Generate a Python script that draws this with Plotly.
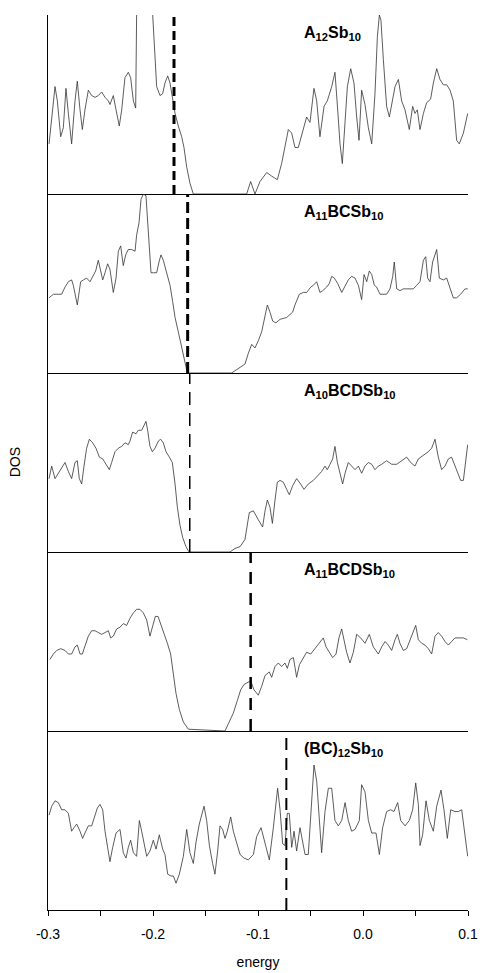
import plotly.graph_objects as go
from plotly.subplots import make_subplots

# ---------------- data ----------------
labels = ["A<sub>12</sub>Sb<sub>10</sub>", "A<sub>11</sub>BCSb<sub>10</sub>",
          "A<sub>10</sub>BCDSb<sub>10</sub>", "A<sub>11</sub>BCDSb<sub>10</sub>",
          "(BC)<sub>12</sub>Sb<sub>10</sub>"]
fermi = [-0.180, -0.167, -0.165, -0.107, -0.073]

e1 = [-0.299, -0.2933, -0.2911, -0.2879, -0.2854, -0.2829, -0.2806, -0.2775, -0.2743, -0.2721,
      -0.2695, -0.2673, -0.2648, -0.2616, -0.2584, -0.2552, -0.2521, -0.2489, -0.2457, -0.2425,
      -0.2410, -0.2378, -0.2352, -0.2321, -0.2298, -0.2267, -0.2235, -0.2213, -0.2187, -0.2165,
      -0.2156, -0.2124, -0.2076, -0.2029, -0.2003, -0.1981, -0.1965, -0.1933, -0.1908, -0.1886,
      -0.1860, -0.1838, -0.1813, -0.1790, -0.1759, -0.1727, -0.1705, -0.1679, -0.1648, -0.1616,
      -0.1124, -0.1108, -0.1070, -0.1029, -0.0981, -0.0917, -0.0870, -0.0816, -0.0775, -0.0743,
      -0.0711, -0.0679, -0.0648, -0.0616, -0.0568, -0.0537, -0.0505, -0.0467, -0.0441, -0.0410,
      -0.0371, -0.0340, -0.0298, -0.0267, -0.0241, -0.0219, -0.0197, -0.0171, -0.0149, -0.0117,
      -0.0086, -0.0060, -0.0038, -0.0013, 0.0019, 0.0051, 0.0083, 0.0114, 0.0137, 0.0156,
      0.0171, 0.0194, 0.0225, 0.0251, 0.0273, 0.0305, 0.0337, 0.0368, 0.0400, 0.0441,
      0.0473, 0.0495, 0.0517, 0.0543, 0.0575, 0.0606, 0.0644, 0.0670, 0.0702, 0.0733,
      0.0765, 0.0797, 0.0829, 0.0860, 0.0892, 0.0917, 0.0956, 0.0997]
d1 = [28, 60, 52, 32, 37, 59, 45, 28, 52, 63,
      47, 36, 47, 58, 55, 54, 55, 57, 54, 52,
      50, 55, 47, 38, 47, 65, 68, 65, 52, 48,
      100, 125, 135, 120, 100, 75, 60, 55, 56, 62,
      66, 62, 52, 45, 38, 32, 26, 15, 6, 0,
      0, 0, 7, 0, 7, 12, 10, 8, 17, 26,
      36, 34, 26, 26, 37, 43, 40, 59, 52, 32,
      49, 52, 60, 68, 47, 28, 17, 43, 60, 70,
      62, 43, 30, 58, 50, 37, 28, 56, 88, 100,
      97, 75, 49, 43, 50, 60, 64, 52, 47, 36,
      49, 45, 47, 36, 45, 51, 53, 62, 70, 64,
      61, 61, 58, 52, 30, 28, 34, 45]

e2 = [-0.2990, -0.2949, -0.2917, -0.2870, -0.2838, -0.2806, -0.2775, -0.2759, -0.2721, -0.2689,
      -0.2663, -0.2632, -0.2600, -0.2568, -0.2546, -0.2521, -0.2505, -0.2479, -0.2457, -0.2432,
      -0.2410, -0.2378, -0.2352, -0.2330, -0.2308, -0.2283, -0.2260, -0.2235, -0.2203, -0.2171,
      -0.2156, -0.2133, -0.2114, -0.2092, -0.2067, -0.2054, -0.2035, -0.2019, -0.1997, -0.1965,
      -0.1943, -0.1924, -0.1902, -0.1876, -0.1838, -0.1813, -0.1790, -0.1759, -0.1727, -0.1695,
      -0.1673, -0.1251, -0.1203, -0.1156, -0.1124, -0.1092, -0.1060, -0.1029, -0.0997, -0.0965,
      -0.0933, -0.0911, -0.0886, -0.0860, -0.0829, -0.0790, -0.0727, -0.0670, -0.0648, -0.0606,
      -0.0568, -0.0537, -0.0498, -0.0473, -0.0441, -0.0410, -0.0384, -0.0346, -0.0321, -0.0298,
      -0.0273, -0.0241, -0.0203, -0.0171, -0.0140, -0.0108, -0.0076, -0.0044, -0.0013, 0.0010,
      0.0035, 0.0060, 0.0083, 0.0108, 0.0130, 0.0162, 0.0194, 0.0225, 0.0257, 0.0283,
      0.0298, 0.0321, 0.0352, 0.0384, 0.0416, 0.0448, 0.0479, 0.0511, 0.0543, 0.0575,
      0.0597, 0.0616, 0.0638, 0.0663, 0.0702, 0.0727, 0.0765, 0.0797, 0.0829, 0.0860,
      0.0892, 0.0930, 0.0971, 0.0997]
d2 = [42, 44, 44, 44, 48, 51, 52, 49, 38, 51,
      52, 53, 51, 55, 57, 63, 58, 52, 56, 61,
      58, 45, 53, 68, 71, 60, 66, 69, 69, 68,
      77, 84, 97, 100, 99, 88, 68, 56, 56, 56,
      62, 66, 63, 57, 49, 40, 31, 23, 14, 6,
      0, 0, 2, 4, 5, 11, 16, 14, 18, 23,
      31, 38, 34, 29, 28, 30, 31, 34, 38, 44,
      45, 45, 48, 49, 51, 45, 46, 48, 50, 54,
      53, 50, 45, 49, 52, 54, 53, 49, 41, 55,
      51, 57, 55, 49, 48, 44, 44, 44, 47, 54,
      62, 47, 46, 47, 47, 47, 47, 49, 51, 63,
      65, 53, 51, 62, 69, 53, 52, 53, 47, 42,
      42, 44, 47, 47]

e3 = [-0.2990, -0.2965, -0.2933, -0.2902, -0.2870, -0.2838, -0.2806, -0.2775, -0.2743, -0.2721,
      -0.2702, -0.2679, -0.2657, -0.2632, -0.2606, -0.2575, -0.2543, -0.2511, -0.2479, -0.2448,
      -0.2416, -0.2394, -0.2362, -0.2330, -0.2298, -0.2267, -0.2235, -0.2219, -0.2194, -0.2162,
      -0.2140, -0.2108, -0.2086, -0.2067, -0.2051, -0.2029, -0.2006, -0.1981, -0.1949, -0.1927,
      -0.1902, -0.1876, -0.1844, -0.1816, -0.1790, -0.1768, -0.1743, -0.1717, -0.1686, -0.1657,
      -0.1267, -0.1219, -0.1171, -0.1124, -0.1083, -0.1044, -0.0997, -0.0956, -0.0933, -0.0911,
      -0.0886, -0.0863, -0.0838, -0.0816, -0.0790, -0.0759, -0.0727, -0.0702, -0.0670, -0.0632,
      -0.0594, -0.0562, -0.0521, -0.0473, -0.0425, -0.0394, -0.0362, -0.0340, -0.0314, -0.0289,
      -0.0267, -0.0244, -0.0219, -0.0194, -0.0171, -0.0140, -0.0108, -0.0076, -0.0044, -0.0013,
      0.0019, 0.0051, 0.0083, 0.0114, 0.0146, 0.0178, 0.0225, 0.0273, 0.0321, 0.0368,
      0.0416, 0.0454, 0.0495, 0.0527, 0.0575, 0.0622, 0.0654, 0.0686, 0.0717, 0.0749,
      0.0781, 0.0813, 0.0844, 0.0870, 0.0898, 0.0930, 0.0956, 0.0981, 0.0997]
d3 = [41, 48, 41, 44, 47, 50, 45, 41, 50, 51,
      41, 38, 48, 58, 63, 61, 58, 53, 52, 49,
      46, 50, 56, 58, 59, 61, 60, 62, 67, 66,
      68, 68, 71, 73, 68, 59, 56, 58, 62, 63,
      61, 56, 53, 50, 38, 25, 15, 8, 3, 0,
      0, 2, 3, 7, 22, 23, 18, 14, 23, 29,
      25, 16, 29, 39, 40, 39, 35, 32, 37, 41,
      38, 35, 38, 40, 43, 45, 48, 46, 49, 52,
      59, 50, 44, 38, 44, 50, 48, 46, 48, 44,
      48, 50, 49, 46, 48, 49, 51, 49, 49, 51,
      53, 50, 48, 52, 54, 56, 58, 63, 53, 46,
      48, 52, 53, 49, 45, 40, 40, 52, 60]

e4 = [-0.2981, -0.2949, -0.2917, -0.2879, -0.2838, -0.2806, -0.2775, -0.2743, -0.2721, -0.2695,
      -0.2673, -0.2648, -0.2616, -0.2584, -0.2552, -0.2521, -0.2489, -0.2457, -0.2425, -0.2403,
      -0.2378, -0.2346, -0.2314, -0.2283, -0.2251, -0.2219, -0.2187, -0.2156, -0.2124, -0.2092,
      -0.2060, -0.2029, -0.2003, -0.1978, -0.1952, -0.1927, -0.1895, -0.1863, -0.1832, -0.1806,
      -0.1781, -0.1749, -0.1711, -0.1663, -0.1314, -0.1283, -0.1235, -0.1197, -0.1165, -0.1133,
      -0.1102, -0.1070, -0.1038, -0.0997, -0.0965, -0.0933, -0.0892, -0.0870, -0.0838, -0.0806,
      -0.0775, -0.0743, -0.0721, -0.0695, -0.0663, -0.0632, -0.0606, -0.0568, -0.0537, -0.0498,
      -0.0473, -0.0441, -0.0403, -0.0378, -0.0352, -0.0321, -0.0289, -0.0257, -0.0229, -0.0203,
      -0.0181, -0.0156, -0.0124, -0.0092, -0.0060, -0.0022, 0.0019, 0.0060, 0.0098, 0.0146,
      0.0178, 0.0210, 0.0241, 0.0273, 0.0305, 0.0327, 0.0352, 0.0384, 0.0416, 0.0441,
      0.0470, 0.0502, 0.0527, 0.0559, 0.0590, 0.0622, 0.0654, 0.0686, 0.0717, 0.0749,
      0.0781, 0.0813, 0.0844, 0.0876, 0.0924, 0.0956, 0.0994]
d4 = [40, 43, 45, 46, 45, 43, 43, 47, 48, 43,
      43, 47, 53, 56, 56, 55, 54, 55, 56, 52,
      53, 57, 58, 60, 59, 63, 66, 68, 68, 66,
      62, 53, 59, 64, 64, 60, 55, 49, 43, 32,
      21, 12, 5, 1, 0, 4, 10, 17, 23, 26,
      27, 28, 23, 20, 25, 31, 33, 30, 36, 38,
      36, 38, 35, 40, 41, 30, 37, 41, 44, 43,
      45, 47, 50, 52, 47, 44, 41, 43, 52, 57,
      51, 44, 38, 44, 54, 52, 49, 54, 47, 43,
      47, 50, 48, 45, 51, 54, 49, 45, 46, 50,
      55, 59, 51, 49, 48, 46, 43, 53, 55, 53,
      50, 48, 50, 52, 52, 52, 51]

e5 = [-0.2990, -0.2965, -0.2933, -0.2902, -0.2870, -0.2838, -0.2806, -0.2775, -0.2752, -0.2727,
      -0.2695, -0.2670, -0.2648, -0.2616, -0.2584, -0.2562, -0.2530, -0.2505, -0.2479, -0.2457,
      -0.2425, -0.2410, -0.2384, -0.2352, -0.2314, -0.2283, -0.2257, -0.2235, -0.2213, -0.2187,
      -0.2156, -0.2130, -0.2108, -0.2086, -0.2060, -0.2029, -0.1997, -0.1971, -0.1940, -0.1908,
      -0.1886, -0.1860, -0.1829, -0.1806, -0.1781, -0.1749, -0.1711, -0.1679, -0.1648, -0.1616,
      -0.1590, -0.1559, -0.1514, -0.1489, -0.1463, -0.1432, -0.1410, -0.1384, -0.1362, -0.1337,
      -0.1314, -0.1292, -0.1260, -0.1235, -0.1203, -0.1171, -0.1133, -0.1092, -0.1044, -0.1013,
      -0.0971, -0.0943, -0.0917, -0.0892, -0.0854, -0.0813, -0.0790, -0.0765, -0.0743, -0.0721,
      -0.0702, -0.0679, -0.0657, -0.0632, -0.0600, -0.0575, -0.0552, -0.0521, -0.0498, -0.0467,
      -0.0441, -0.0416, -0.0394, -0.0362, -0.0330, -0.0298, -0.0267, -0.0235, -0.0203, -0.0171,
      -0.0140, -0.0108, -0.0076, -0.0035, -0.0013, 0.0019, 0.0051, 0.0083, 0.0124, 0.0156,
      0.0187, 0.0225, 0.0263, 0.0295, 0.0330, 0.0359, 0.0400, 0.0441, 0.0473, 0.0502,
      0.0527, 0.0543, 0.0568, 0.0600, 0.0632, 0.0670, 0.0702, 0.0743, 0.0771, 0.0803,
      0.0835, 0.0876, 0.0908, 0.0940, 0.0971, 0.0997]
d5 = [53, 58, 61, 60, 56, 56, 54, 44, 46, 48,
      44, 40, 43, 47, 47, 51, 57, 59, 56, 44,
      31, 27, 35, 43, 45, 32, 29, 35, 39, 32,
      30, 50, 44, 37, 30, 33, 39, 34, 42, 34,
      31, 20, 19, 19, 15, 20, 30, 45, 32, 26,
      38, 48, 58, 50, 36, 26, 20, 33, 47, 45,
      40, 44, 52, 44, 37, 31, 29, 28, 31, 41,
      46, 39, 33, 28, 46, 68, 56, 37, 36, 54,
      54, 35, 44, 33, 46, 38, 31, 31, 50, 81,
      72, 50, 32, 55, 68, 68, 50, 47, 50, 60,
      50, 44, 45, 50, 70, 66, 50, 43, 43, 31,
      46, 55, 56, 55, 60, 50, 47, 50, 56, 71,
      59, 36, 42, 61, 50, 44, 58, 67, 56, 40,
      56, 55, 55, 56, 42, 30]

energies = [e1, e2, e3, e4, e5]
dos = [d1, d2, d3, d4, d5]

tick_vals = [-0.3, -0.25, -0.2, -0.15, -0.1, -0.05, 0.0, 0.05, 0.1]
tick_text = ["-0.3", "", "-0.2", "", "-0.1", "", "0.0", "", "0.1"]

# ---------------- styling ----------------
dash_widths = [3, 3, 1.5, 2.5, 2]
dash_styles = ["9px,5px", "11px,5px", "13px,8px", "12px,9px", "12px,8px"]
FONT = "Liberation Sans, Arial, sans-serif"

fig = make_subplots(rows=5, cols=1, shared_xaxes=True, vertical_spacing=0)

for i in range(5):
    r = i + 1
    fig.add_trace(go.Scatter(x=energies[i], y=dos[i], mode="lines",
                             line=dict(color="#333333", width=0.8),
                             showlegend=False, hoverinfo="skip"), row=r, col=1)
    yname = "y" if r == 1 else f"y{r}"
    xname = "x" if r == 1 else f"x{r}"
    fig.add_shape(type="line", xref=xname, yref=f"{yname} domain",
                  x0=fermi[i], x1=fermi[i], y0=0, y1=1,
                  line=dict(color="black", width=dash_widths[i], dash=dash_styles[i]))
    fig.add_annotation(x=-0.058, y=0.895, xref=xname, yref=f"{yname} domain",
                       text=f"<b>{labels[i]}</b>", showarrow=False,
                       xanchor="left", yanchor="middle",
                       font=dict(family=FONT, size=16, color="black"))
    fig.update_yaxes(range=[0, 100], showline=True, linecolor="black", linewidth=1,
                     showgrid=False, zeroline=False, ticks="", showticklabels=False,
                     automargin=False, row=r, col=1)
    fig.update_xaxes(range=[-0.3, 0.1], showline=True, linecolor="black", linewidth=1,
                     showgrid=False, zeroline=False, row=r, col=1, automargin=False,
                     ticks="outside" if r == 5 else "", ticklen=5, tickcolor="black",
                     tickvals=tick_vals, ticktext=tick_text,
                     showticklabels=(r == 5), ticklabelstandoff=6,
                     tickfont=dict(family=FONT, size=14, color="black"))

fig.update_xaxes(title=dict(text="energy", font=dict(family=FONT, size=14, color="black"),
                            standoff=16), row=5, col=1)

fig.add_annotation(x=-0.079, y=0.5, xref="paper", yref="paper", text="DOS",
                   textangle=-90, showarrow=False, xanchor="center", yanchor="middle",
                   font=dict(family=FONT, size=14, color="black"))

fig.update_layout(width=482, height=973, plot_bgcolor="white", paper_bgcolor="white",
                  margin=dict(l=48, r=14, t=15, b=63, autoexpand=False), showlegend=False)

fig.write_html("out.html", config={"displayModeBar": False},
               post_script="document.body.style.margin='0';")
